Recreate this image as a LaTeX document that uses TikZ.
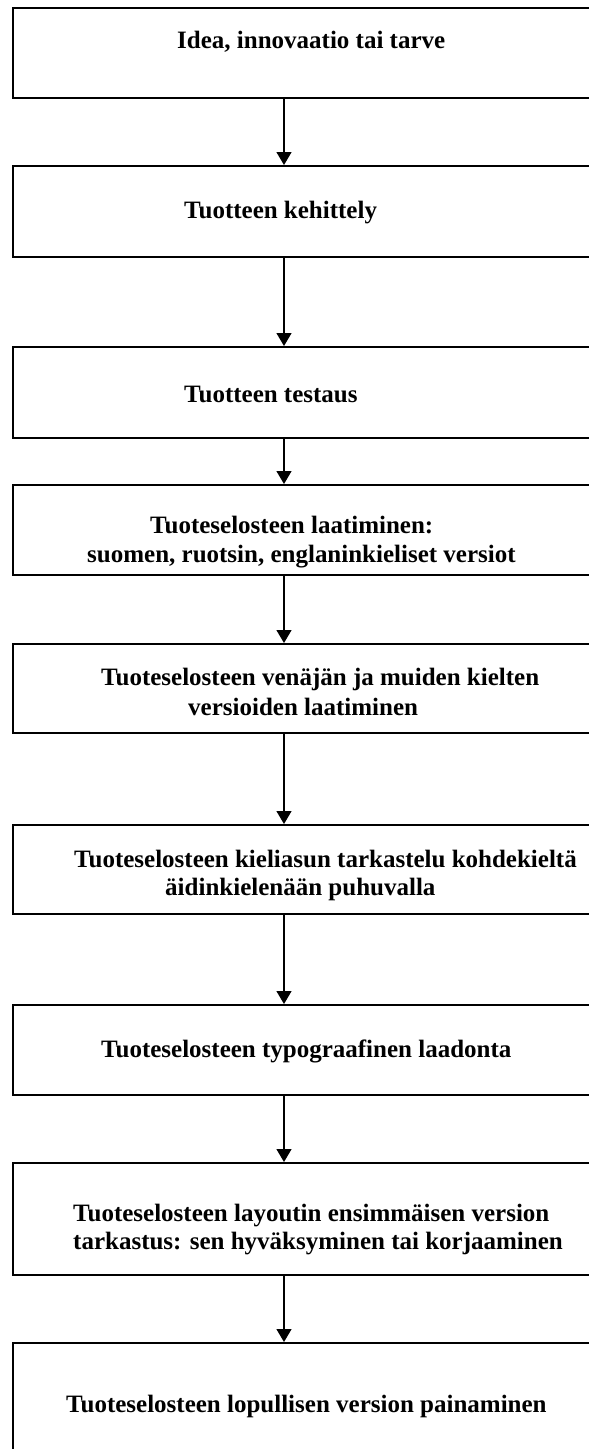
\documentclass[tikz,border=0pt]{standalone}
\usepackage{fontspec}
\setmainfont{Liberation Serif}
\usetikzlibrary{arrows.meta}
\begin{document}
\begin{tikzpicture}[x=1pt,y=-1pt,
  box/.style={draw, line width=1.6pt, inner sep=0pt, anchor=north west, minimum width=600pt},
  lbl/.style={anchor=base west, inner sep=0pt, font=\fontsize{25}{29}\selectfont\bfseries},
  flow/.style={-{Triangle[width=15pt,length=13pt]}, line width=1.3pt}]
\useasboundingbox (0,0) rectangle (589,1449);
\clip (0,0) rectangle (589,1449);
\fill[white] (0,0) rectangle (589,1449);
% boxes
\node[box, minimum height=90pt] (b1) at (12,7) {};
\node[box, minimum height=91pt] (b2) at (12,165) {};
\node[box, minimum height=91pt] (b3) at (12,346) {};
\node[box, minimum height=90pt] (b4) at (12,484) {};
\node[box, minimum height=89pt] (b5) at (12,643) {};
\node[box, minimum height=89pt] (b6) at (12,824) {};
\node[box, minimum height=90pt] (b7) at (12,1004) {};
\node[box, minimum height=112pt] (b8) at (12,1162) {};
\node[box, minimum height=118pt] (b9) at (12,1342) {};
% texts
\node[lbl] (t1) at (177,48) {Idea, innovaatio tai tarve};
\node[lbl] (t2) at (184,218) {Tuotteen kehittely};
\node[lbl] (t3) at (184,402) {Tuotteen testaus};
\node[lbl] (t4a) at (150,533) {Tuoteselosteen laatiminen:};
\node[lbl] (t4b) at (87,562) {suomen, ruotsin, englaninkieliset versiot};
\node[lbl] (t5a) at (101,685) {Tuoteselosteen venäjän ja muiden kielten};
\node[lbl] (t5b) at (188,715) {versioiden laatiminen};
\node[lbl] (t6a) at (74,867) {Tuoteselosteen kieliasun tarkastelu kohdekieltä};
\node[lbl] (t6b) at (165,895) {äidinkielenään puhuvalla};
\node[lbl] (t7) at (101,1057) {Tuoteselosteen typograafinen laadonta};
\node[lbl] (t8a) at (73,1221) {Tuoteselosteen layoutin ensimmäisen version};
\node[lbl] (t8b) at (73,1249) {tarkastus: sen hyväksyminen tai korjaaminen};
\node[lbl] (t9) at (66,1412) {Tuoteselosteen lopullisen version painaminen};
% arrows
\coordinate (ax) at (284,0);
\draw[flow] (b1.south -| ax) -- (b2.north -| ax);
\draw[flow] (b2.south -| ax) -- (b3.north -| ax);
\draw[flow] (b3.south -| ax) -- (b4.north -| ax);
\draw[flow] (b4.south -| ax) -- (b5.north -| ax);
\draw[flow] (b5.south -| ax) -- (b6.north -| ax);
\draw[flow] (b6.south -| ax) -- (b7.north -| ax);
\draw[flow] (b7.south -| ax) -- (b8.north -| ax);
\draw[flow] (b8.south -| ax) -- (b9.north -| ax);
\end{tikzpicture}
\end{document}
